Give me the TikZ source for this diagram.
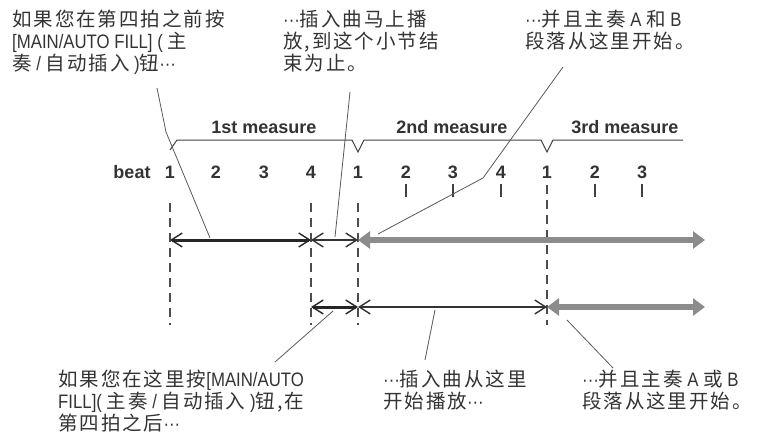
\documentclass[tikz,border=0pt]{standalone}
\usepackage{fontspec}
\setmainfont{Noto Sans CJK SC}[LetterSpace=10]
\newfontfamily\enfont{Liberation Sans}[FakeStretch=0.86]
\newfontfamily\lblfont{Liberation Sans}
\newcommand{\en}[1]{{\enfont #1}}
\newcommand{\mdots}{{\enfont ···}}
\usetikzlibrary{arrows.meta}
\tikzset{>={Straight Barb[length=11pt,width=14pt,line width=1.4pt]}}
\begin{document}
\begin{tikzpicture}[x=1pt,y=-1pt,
  note/.style={font=\fontsize{19.5}{22}\selectfont,text=black!80,align=left,inner sep=0pt,anchor=north west},
  beatnum/.style={font=\lblfont\bfseries\fontsize{18}{20}\selectfont,text=black!80,inner sep=0pt,anchor=base},
  guide/.style={draw=black!70,line width=1.1pt,dash pattern=on 9pt off 6pt},
  beattick/.style={draw=black!75,line width=1.1pt},
  callout/.style={draw=black!65,line width=.8pt},
  heavy/.style={draw=black!85,line width=3pt,<->},
  light/.style={draw=black!80,line width=1.2pt,<->},
  shade/.style={draw=black!45,line width=5.5pt,arrows={Triangle[length=12pt,width=17pt]-Triangle[length=12pt,width=17pt]}}]
\useasboundingbox (0,0) rectangle (761,444);
% notes
\node[note] (n1) at (12,10) {如果您在第四拍之前按\\\en{[MAIN/AUTO FILL] ( }主\\奏\en{ / }自动插入\en{ )}钮\mdots};
\node[note] (n2) at (283,10) {\mdots 插入曲马上播\\放,到这个小节结\\束为止。};
\node[note] (n3) at (525,10) {\mdots 并且主奏\en{ A }和\en{ B}\\段落从这里开始。};
\node[note] (n4) at (58,370) {如果您在这里按\en{[MAIN/AUTO}\\\en{FILL]( }主奏\en{ / }自动插入\en{ )}钮,在\\第四拍之后\mdots};
\node[note] (n5) at (383,370) {\mdots 插入曲从这里\\开始播放\mdots};
\node[note] (n6) at (582,370) {\mdots 并且主奏\en{ A }或\en{ B}\\段落从这里开始。};
% measures and beats
\node[beatnum] (m1) at (264,133) {1st measure};
\node[beatnum] (m2) at (452,133) {2nd measure};
\node[beatnum] (m3) at (625,133) {3rd measure};
\draw[black!75,line width=1pt] (170,150) -- (177,140) -- (352,140) -- (358,152) -- (364,140) -- (541,140) -- (547,152) -- (553,140) -- (683,140);
\node[beatnum] (beatword) at (132,178) {beat};
\foreach \i/\x/\t in {1/170/1,2/216/2,3/264/3,4/311/4,5/358/1,6/406/2,7/453/3,8/501/4,9/547/1,10/595/2,11/642/3}
  \node[beatnum] (b\i) at (\x,178) {\t};
\foreach \i in {6,7,8,10,11}
  \draw[beattick] (b\i |- 0,184) -- (b\i |- 0,197);
\foreach \i in {1,4,5}
  \draw[guide] (b\i |- 0,203) -- (b\i |- 0,325);
\draw[guide] (b9 |- 0,185) -- (b9 |- 0,325);
% rows
\coordinate (u1) at (b1 |- 0,240);
\coordinate (u4) at (b4 |- 0,240);
\coordinate (u5) at (b5 |- 0,240);
\coordinate (uend) at (705,240);
\coordinate (v4) at (b4 |- 0,307);
\coordinate (v5) at (b5 |- 0,307);
\coordinate (v9) at (b9 |- 0,307);
\coordinate (vend) at (705,307);
\draw[shade] (u5) -- (uend);
\draw[shade] (v9) -- (vend);
\draw[heavy] (u1) -- (u4);
\draw[light] (u4) -- (u5);
\draw[heavy] (v4) -- (v5);
\draw[light] (v5) -- (v9);
% callouts
\coordinate (k1) at (157,88);
\coordinate (k2) at (350,92);
\coordinate (k3) at (563,67);
\coordinate (k4) at (275,362);
\coordinate (k5) at (425,360);
\coordinate (k6) at (613,368);
\draw[callout] (k1) -- (166,132) -- (210,238);
\draw[callout] (k2) -- (335,237);
\draw[callout] (k3) -- (483,178) -- (378,234);
\draw[callout] (k4) -- (333,311);
\draw[callout] (k5) -- (435,310);
\draw[callout] (k6) -- (567,320);
\end{tikzpicture}
\end{document}
